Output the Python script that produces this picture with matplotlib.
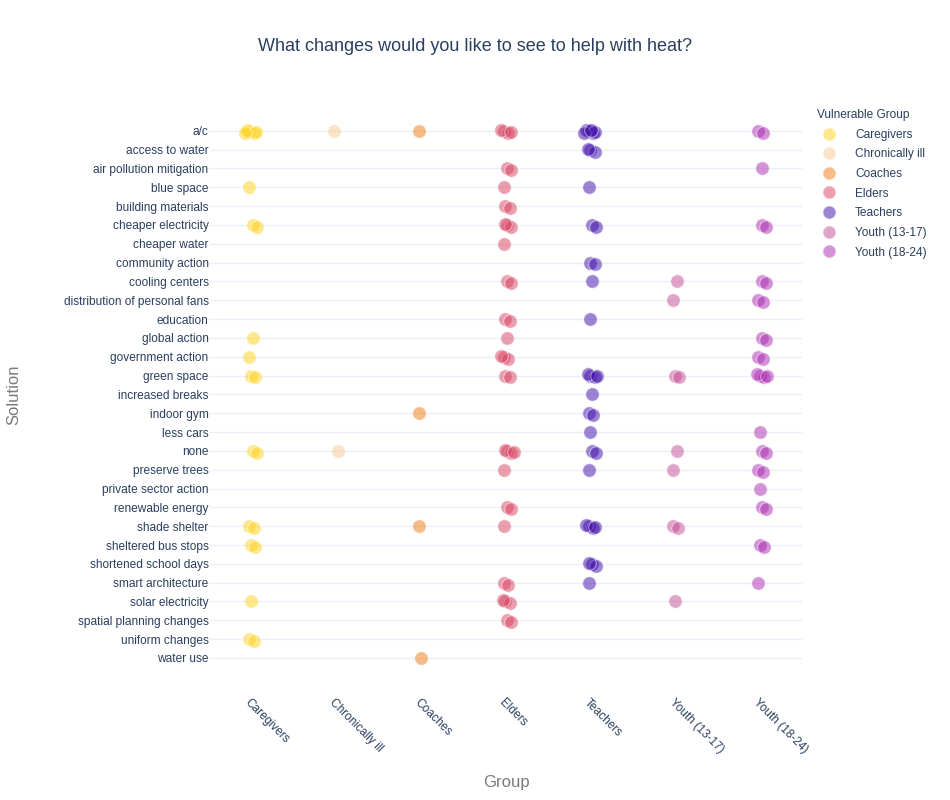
import matplotlib.pyplot as plt
from matplotlib.lines import Line2D

solutions = [
    'a/c', 'access to water', 'air pollution mitigation', 'blue space',
    'building materials', 'cheaper electricity', 'cheaper water',
    'community action', 'cooling centers', 'distribution of personal fans',
    'education', 'global action', 'government action', 'green space',
    'increased breaks', 'indoor gym', 'less cars', 'none', 'preserve trees',
    'private sector action', 'renewable energy', 'shade shelter',
    'sheltered bus stops', 'shortened school days', 'smart architecture',
    'solar electricity', 'spatial planning changes', 'uniform changes',
    'water use',
]

groups = ['Caregivers', 'Chronically ill', 'Coaches', 'Elders', 'Teachers',
          'Youth (13-17)', 'Youth (18-24)']

colors = ['#FFD21A', '#FAC890', '#EE7A10', '#D8405F', '#3D0AA8',
          '#C54A95', '#AA28B0']

# answers per group: solution and number of respondents
caregivers_solutions = ['a/c', 'blue space', 'cheaper electricity', 'global action',
                        'government action', 'green space', 'none', 'shade shelter',
                        'sheltered bus stops', 'solar electricity', 'uniform changes']
caregivers_counts = [5, 1, 2, 1, 1, 2, 2, 2, 2, 1, 2]

chronic_solutions = ['a/c', 'none']
chronic_counts = [1, 1]

coaches_solutions = ['a/c', 'indoor gym', 'shade shelter', 'water use']
coaches_counts = [1, 1, 1, 1]

elders_solutions = ['a/c', 'air pollution mitigation', 'blue space', 'building materials',
                    'cheaper electricity', 'cheaper water', 'cooling centers', 'education',
                    'global action', 'government action', 'green space', 'none',
                    'preserve trees', 'renewable energy', 'shade shelter',
                    'smart architecture', 'solar electricity', 'spatial planning changes']
elders_counts = [4, 2, 1, 2, 3, 1, 2, 2, 1, 3, 2, 4, 1, 2, 1, 2, 3, 2]

teachers_solutions = ['a/c', 'access to water', 'blue space', 'cheaper electricity',
                      'community action', 'cooling centers', 'education', 'green space',
                      'increased breaks', 'indoor gym', 'less cars', 'none',
                      'preserve trees', 'shade shelter', 'shortened school days',
                      'smart architecture']
teachers_counts = [6, 3, 1, 2, 2, 1, 1, 4, 1, 2, 1, 2, 1, 4, 3, 1]

youth1317_solutions = ['cooling centers', 'distribution of personal fans', 'green space',
                       'none', 'preserve trees', 'shade shelter', 'solar electricity']
youth1317_counts = [1, 1, 2, 1, 1, 2, 1]

youth1824_solutions = ['a/c', 'air pollution mitigation', 'cheaper electricity',
                       'cooling centers', 'distribution of personal fans', 'global action',
                       'government action', 'green space', 'less cars', 'none',
                       'preserve trees', 'private sector action', 'renewable energy',
                       'sheltered bus stops', 'smart architecture']
youth1824_counts = [2, 1, 2, 2, 2, 2, 2, 4, 1, 2, 2, 1, 2, 2, 1]

answers = [
    (caregivers_solutions, caregivers_counts),
    (chronic_solutions, chronic_counts),
    (coaches_solutions, coaches_counts),
    (elders_solutions, elders_counts),
    (teachers_solutions, teachers_counts),
    (youth1317_solutions, youth1317_counts),
    (youth1824_solutions, youth1824_counts),
]

# small fixed offsets so stacked answers stay visible (strip jitter)
x_jit = [0.0, 0.05, -0.03, 0.08, -0.05, 0.03]
y_jit = [0.0, 0.1, -0.06, 0.04, 0.12, -0.03]

plt.rcParams['font.family'] = ['Liberation Sans', 'DejaVu Sans']
text_color = '#2a3f5f'

fig = plt.figure(figsize=(9.5, 8), dpi=100)
ax = fig.add_axes([0.2196, 0.154, 0.625, 0.706])

for gi, (sols, counts) in enumerate(answers):
    xs, ys = [], []
    for sol, n in zip(sols, counts):
        yi = solutions.index(sol)
        for k in range(n):
            xs.append(gi + x_jit[k % len(x_jit)] + 0.02 * ((yi % 3) - 1))
            ys.append(yi + y_jit[k % len(y_jit)])
    ax.scatter(xs, ys, s=95, color=colors[gi], alpha=0.5,
               edgecolors='white', linewidths=0.8, zorder=3)

ax.set_xlim(-0.5, len(groups) - 0.5)
ax.set_ylim(len(solutions), -1)
ax.set_yticks(range(len(solutions)))
ax.set_yticklabels(solutions, fontsize=8.6, color=text_color)
ax.set_xticks(range(len(groups)))
ax.set_xticklabels(groups, fontsize=8.6, color=text_color, rotation=-45,
                   ha='left', va='top', rotation_mode='anchor')
ax.tick_params(axis='both', length=0)
ax.tick_params(axis='x', pad=14)
ax.tick_params(axis='y', pad=0)
ax.grid(axis='y', color='#EBF0F8', linewidth=1, zorder=0)
ax.grid(axis='x', visible=False)
for sp in ax.spines.values():
    sp.set_visible(False)

fig.text(0.533, 0.022, 'Group', fontsize=12, color='#7a7a7a',
         ha='center', va='center')
fig.text(0.015, 0.506, 'Solution', fontsize=12, color='#7a7a7a',
         ha='center', va='center', rotation=90)
fig.suptitle('What changes would you like to see to help with heat?',
             x=0.5, y=0.953, fontsize=13, color=text_color)

handles = [Line2D([0], [0], marker='o', linestyle='', markersize=9.5,
                  markerfacecolor=c, markeredgecolor='white', alpha=0.5)
           for c in colors]
leg = ax.legend(handles, groups, title='Vulnerable Group', loc='upper left',
                bbox_to_anchor=(1.01, 1.02), frameon=False, fontsize=8.6,
                title_fontsize=8.6, labelspacing=0.64, handletextpad=1.2,
                alignment='left', borderaxespad=0.3)
for t in leg.get_texts():
    t.set_color(text_color)
leg.get_title().set_color(text_color)

fig.savefig('out.png', dpi=100, facecolor='white')
